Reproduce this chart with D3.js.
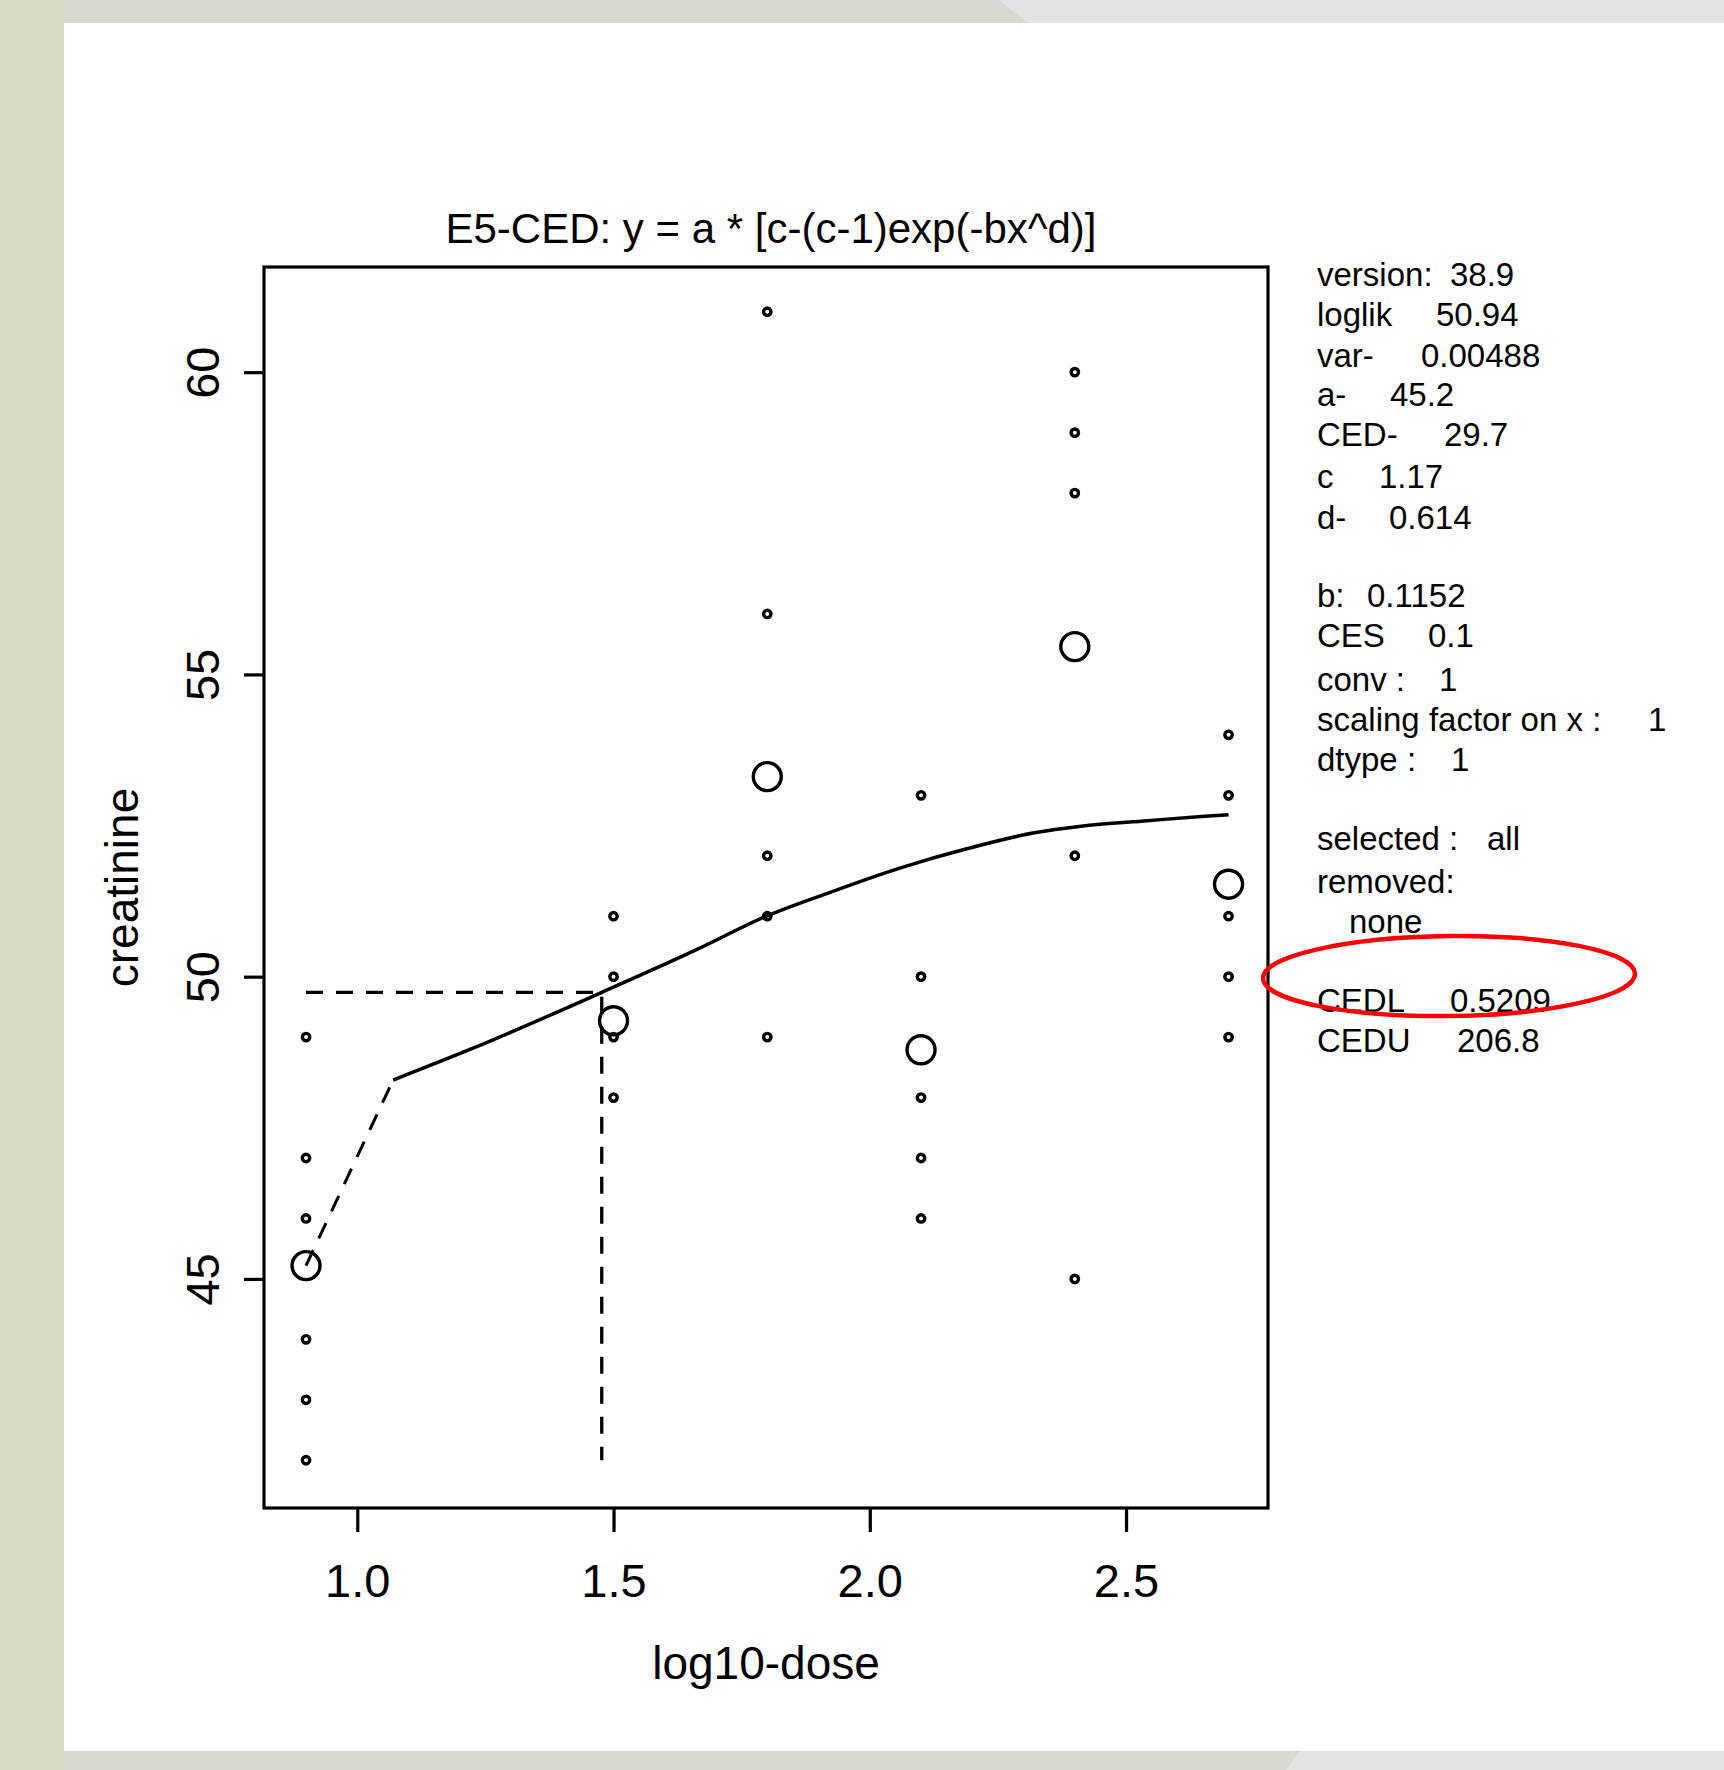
<!DOCTYPE html>
<html>
<head>
<meta charset="utf-8">
<script src="https://cdn.jsdelivr.net/npm/d3@7"></script>
<style>
  body { margin: 0; background: #fff; }
  svg text { font-family: "Liberation Sans", Arial, sans-serif; fill: #000; }
  .info { font-size: 33px; white-space: pre; }
</style>
</head>
<body>
<svg id="chart" width="1724" height="1770"></svg>
<script>
// Dose groups (log10-dose) and observed creatinine per group
const doseGroups = [0.9, 1.5, 1.8, 2.1, 2.4, 2.7];
const groupObs = [
  [49, 47, 46, 44, 43, 42],
  [51, 50, 49, 48],
  [61, 56, 52, 51, 49],
  [53, 50, 48, 47, 46],
  [60, 59, 58, 52, 45],
  [54, 53, 51, 50, 49]
];
const groupMeans = [45.22, 49.27, 53.31, 48.79, 55.46, 51.53];

// Fitted curve
const curveX = [1.07, 1.227, 1.477, 1.663, 1.798, 1.924, 2.06, 2.191, 2.321, 2.412, 2.542, 2.647, 2.70];
const curveY = [48.29, 48.82, 49.74, 50.45, 51.00, 51.40, 51.80, 52.12, 52.38, 52.49, 52.58, 52.65, 52.68];

// CED point (log10 scale) and response at CED
const cedX = 1.477;
const cedY = 49.74;

const xTicks = [1.0, 1.5, 2.0, 2.5];
const yTicks = [45, 50, 55, 60];

// Text printed to the right of the plot
const infoLabels = ["version:", "loglik", "var-", "a-", "CED-", "c", "d-",
  "b:", "CES", "conv  :", "scaling factor on x   :", "dtype  :",
  "selected  :", "removed:", "", "CEDL", "CEDU"];
const infoValues = ["38.9", "50.94", "0.00488", "45.2", "29.7", "1.17", "0.614",
  "0.1152", "0.1", "1", "1", "1",
  "all", "", "none", "0.5209", "206.8"];

// layout
const infoBaseline = [286, 326, 367, 406, 446, 488, 529, 607, 647, 691, 731, 771, 850, 893, 933, 1012, 1052];
const infoValueX = [1450, 1436, 1421, 1390, 1444, 1379, 1389, 1367, 1428, 1439, 1648, 1451, 1487, 0, 1349, 1450, 1457];

const svg = d3.select("#chart");
const box = {left: 264, top: 267, right: 1268, bottom: 1508};

// page decoration
svg.append("rect").attr("width", 1724).attr("height", 1770).attr("fill", "#fff");
svg.append("path").attr("d", "M0,0H1724V23H1028L1000,0Z").attr("fill", "#e3e3e3");
svg.append("path").attr("d", "M0,0H1000L1028,23H0Z").attr("fill", "#d8d9cf");
svg.append("path").attr("d", "M0,1751H1724V1770H0Z").attr("fill", "#e3e3e3");
svg.append("path").attr("d", "M0,1751H1300L1286,1770H0Z").attr("fill", "#d8d9cf");
svg.append("rect").attr("width", 64).attr("height", 1770).attr("fill", "#d5ddc0");

// scales
const x = d3.scaleLinear()
  .domain([0.818, 2.777])
  .range([box.left, box.right]);

const y = d3.scaleLinear()
  .domain([41.21, 61.74])
  .range([box.bottom, box.top]);

// X axis
const xAxis = svg.append("g")
  .attr("transform", `translate(0,${box.bottom})`)
  .call(d3.axisBottom(x).tickValues(xTicks).tickFormat(d3.format(".1f")).tickSize(24).tickPadding(32));
xAxis.select(".domain").remove();
xAxis.selectAll("line").attr("stroke", "#000").attr("stroke-width", 3.2);
xAxis.selectAll("text")
  .attr("font-size", "47px")
  .attr("font-family", "Liberation Sans, Arial, sans-serif");

// Y axis, labels turned like R does
const yAxis = svg.append("g")
  .attr("transform", `translate(${box.left},0)`)
  .call(d3.axisLeft(y).tickValues(yTicks).tickSize(20));
yAxis.select(".domain").remove();
yAxis.selectAll("line").attr("stroke", "#000").attr("stroke-width", 3.2);
yAxis.selectAll("text")
  .attr("x", null).attr("dy", null)
  .attr("text-anchor", "middle")
  .attr("transform", "translate(-45,0) rotate(-90)")
  .attr("font-size", "47px")
  .attr("font-family", "Liberation Sans, Arial, sans-serif");

// plot box
svg.append("rect")
  .attr("x", box.left).attr("y", box.top)
  .attr("width", box.right - box.left).attr("height", box.bottom - box.top)
  .attr("fill", "none").attr("stroke", "#000").attr("stroke-width", 3.2);

// Axis labels and title
svg.append("text")
  .attr("x", (box.left + box.right) / 2).attr("y", 1679)
  .attr("text-anchor", "middle").attr("font-size", "46px")
  .text("log10-dose");

svg.append("text")
  .attr("transform", `translate(138,${(box.top + box.bottom) / 2}) rotate(-90)`)
  .attr("text-anchor", "middle").attr("font-size", "46px")
  .text("creatinine");

svg.append("text")
  .attr("x", 771).attr("y", 243)
  .attr("text-anchor", "middle").attr("font-size", "42px")
  .text("E5-CED: y = a * [c-(c-1)exp(-bx^d)]");

// individual observations
const obs = [];
doseGroups.forEach((g, i) => groupObs[i].forEach(v => obs.push({x: g, y: v})));

svg.append("g")
  .selectAll("circle")
  .data(obs)
  .join("circle")
  .attr("cx", d => x(d.x))
  .attr("cy", d => y(d.y))
  .attr("r", 3.7)
  .attr("fill", "none")
  .attr("stroke", "#000")
  .attr("stroke-width", 3.4);

// group means
svg.append("g")
  .selectAll("circle")
  .data(doseGroups.map((g, i) => ({x: g, y: groupMeans[i]})))
  .join("circle")
  .attr("cx", d => x(d.x))
  .attr("cy", d => y(d.y))
  .attr("r", 14)
  .attr("fill", "none")
  .attr("stroke", "#000")
  .attr("stroke-width", 3.4);

// fitted curve
const line = d3.line()
  .x(d => x(d[0]))
  .y(d => y(d[1]))
  .curve(d3.curveMonotoneX);

svg.append("path")
  .attr("d", line(curveX.map((v, i) => [v, curveY[i]])))
  .attr("fill", "none").attr("stroke", "#000").attr("stroke-width", 3.5);

// dashed link from control mean to the first fitted point
svg.append("path")
  .attr("d", d3.line()([[x(doseGroups[0]), y(groupMeans[0])], [x(curveX[0]), y(curveY[0])]]))
  .attr("fill", "none").attr("stroke", "#000").attr("stroke-width", 3)
  .attr("stroke-dasharray", "17,13");

// CED reference lines
const minX = d3.min(doseGroups);
const minY = d3.min(groupObs.flat());
svg.append("path")
  .attr("d", d3.line()([[x(minX), y(cedY)], [x(cedX), y(cedY)], [x(cedX), y(minY)]]))
  .attr("fill", "none").attr("stroke", "#000").attr("stroke-width", 3.3)
  .attr("stroke-dasharray", "17,13");

// info text
const info = svg.append("g").attr("class", "info");
infoLabels.forEach((lab, i) => {
  if (lab) info.append("text").attr("x", 1317).attr("y", infoBaseline[i]).text(lab);
  if (infoValues[i]) info.append("text").attr("x", infoValueX[i]).attr("y", infoBaseline[i]).text(infoValues[i]);
});

// red highlight round the CEDL line
svg.append("ellipse")
  .attr("cx", 1449).attr("cy", 976)
  .attr("rx", 186).attr("ry", 40)
  .attr("transform", "rotate(-0.7,1449,976)")
  .attr("fill", "none").attr("stroke", "#ff0000").attr("stroke-width", 4.5);
</script>
</body>
</html>
